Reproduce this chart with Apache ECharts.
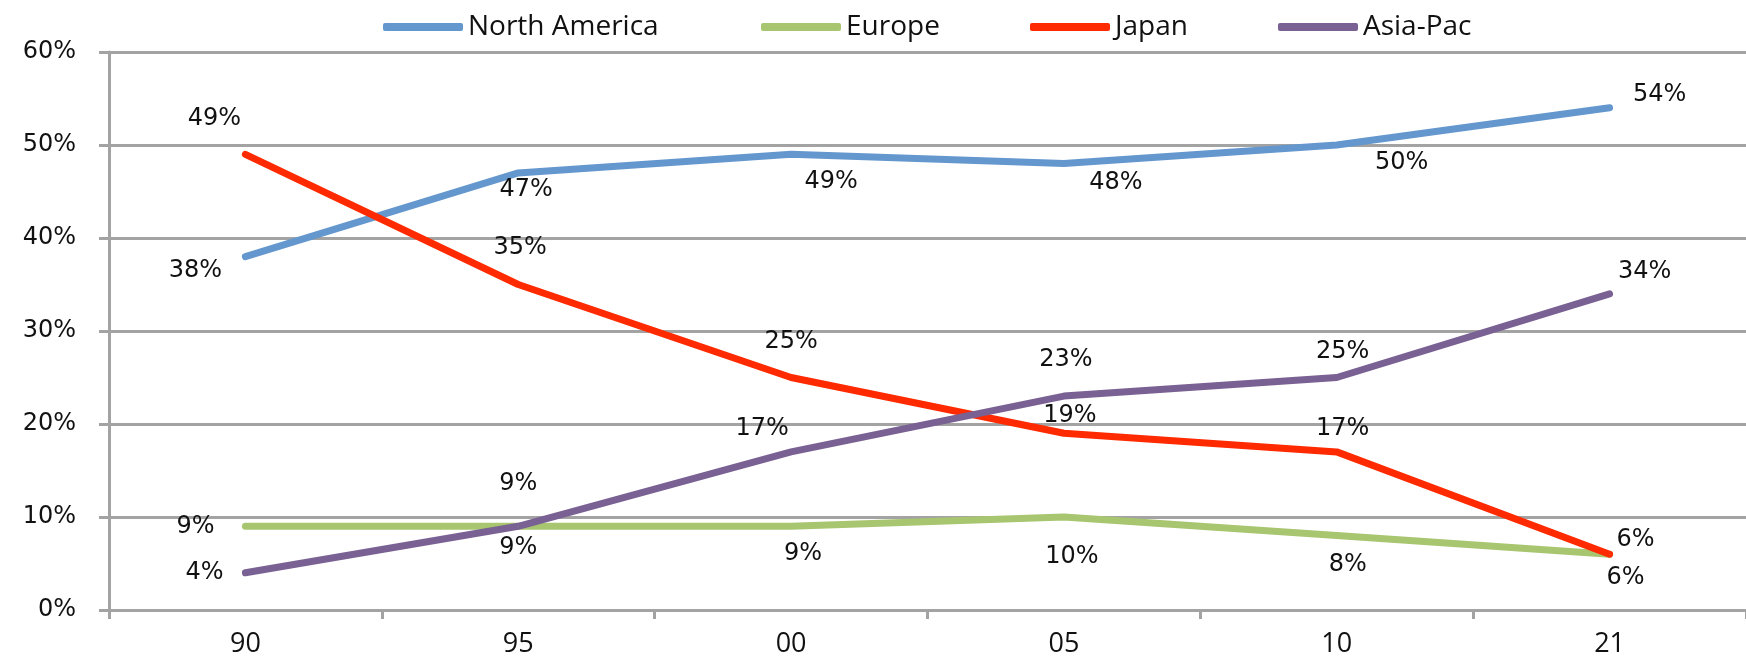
<!DOCTYPE html>
<html>
<head>
<meta charset="utf-8">
<script src="https://cdn.jsdelivr.net/npm/echarts@6/dist/echarts.min.js"></script>
<style>
html, body { margin: 0; padding: 0; background: #fff; }
#main { width: 1746px; height: 659px; }
</style>
</head>
<body>
<div id="main"></div>
<script>
// values (percent)
var years = ['90', '95', '00', '05', '10', '21'];
var seriesNames = ['North America', 'Europe', 'Japan', 'Asia-Pac'];
var northAmerica = [38, 47, 49, 48, 50, 54];
var europe = [9, 9, 9, 10, 8, 6];
var japan = [49, 35, 25, 19, 17, 6];
var asiaPac = [4, 9, 17, 23, 25, 34];

// where each value label sits relative to its point (styling only)
var naOffsets = [[-50, 14], [8, 17], [40, 27], [52, 19], [65, 18], [50, -13]];
var euOffsets = [[-50, 0], [0, 21], [12, 27], [8, 40], [11, 29], [16, 24]];
var jpOffsets = [[-31, -36], [2, -37], [0, -36], [6, -18], [6, -23], [26, -14]];
var apOffsets = [[-41, 0], [0, -43], [-29, -23], [2, -36], [6, -26], [35, -22]];

var colors = ['#6497CD', '#A8C56F', '#FF2A00', '#7A6193'];
var legendLeft = [383, 761, 1030, 1278];

var myChart = echarts.init(document.getElementById('main'));

function buildData(values, offsets) {
    var list = [];
    for (var i = 0; i < values.length; i++) {
        list.push({
            value: values[i],
            label: { offset: offsets[i] }
        });
    }
    return list;
}

function makeSeries(name, values, offsets, color) {
    return {
        name: name,
        type: 'line',
        data: buildData(values, offsets),
        symbol: 'circle',
        symbolSize: 1,
        showSymbol: true,
        itemStyle: { color: color },
        lineStyle: { color: color, width: 7, cap: 'round', join: 'round' },
        label: {
            show: true,
            position: 'inside',
            formatter: '{c}%',
            fontFamily: 'DejaVu Sans',
            fontSize: 24,
            color: '#111'
        },
        emphasis: { disabled: true }
    };
}

var legends = [];
for (var k = 0; k < seriesNames.length; k++) {
    legends.push({
        data: [seriesNames[k]],
        left: legendLeft[k],
        top: 13,
        padding: 0,
        icon: 'roundRect',
        itemWidth: 80,
        itemHeight: 8,
        selectedMode: false,
        textStyle: {
            fontFamily: 'Open Sans',
            fontSize: 28,
            color: '#111'
        }
    });
}

var option = {
    animation: false,
    backgroundColor: '#fff',
    legend: legends,
    grid: {
        left: 109,
        right: -13,
        top: 52,
        bottom: 49
    },
    xAxis: {
        type: 'category',
        data: years,
        boundaryGap: true,
        axisLine: { lineStyle: { color: '#A3A3A3', width: 3 } },
        axisTick: { show: true, length: 9, lineStyle: { color: '#A3A3A3', width: 3 } },
        axisLabel: {
            margin: 21,
            fontFamily: 'Open Sans',
            fontSize: 27,
            color: '#111'
        },
        splitLine: { show: false }
    },
    yAxis: {
        type: 'value',
        min: 0,
        max: 60,
        interval: 10,
        axisLine: { show: true, lineStyle: { color: '#A3A3A3', width: 3 } },
        axisTick: { show: true, length: 10, lineStyle: { color: '#A3A3A3', width: 3 } },
        axisLabel: {
            formatter: '{value}%',
            margin: 33,
            fontFamily: 'DejaVu Sans',
            fontSize: 24,
            color: '#111'
        },
        splitLine: { show: true, lineStyle: { color: '#A3A3A3', width: 3 } }
    },
    series: [
        makeSeries(seriesNames[0], northAmerica, naOffsets, colors[0]),
        makeSeries(seriesNames[1], europe, euOffsets, colors[1]),
        makeSeries(seriesNames[2], japan, jpOffsets, colors[2]),
        makeSeries(seriesNames[3], asiaPac, apOffsets, colors[3])
    ]
};

myChart.setOption(option);
</script>
</body>
</html>
